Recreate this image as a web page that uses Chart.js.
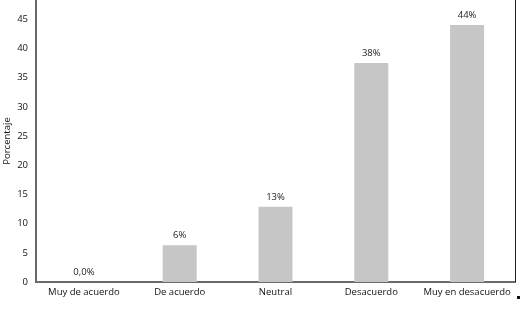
<!DOCTYPE html>
<html>
<head>
<meta charset="utf-8">
<script src="https://cdn.jsdelivr.net/npm/chart.js@4.4.0/dist/chart.umd.min.js"></script>
<style>
  html, body { margin: 0; padding: 0; background: #fff; }
  #wrap { width: 522px; height: 313px; position: relative; }
</style>
</head>
<body>
<div id="wrap"><canvas id="barChart"></canvas></div>
<script>
// Data
const categories = ["Muy de acuerdo", "De acuerdo", "Neutral", "Desacuerdo", "Muy en desacuerdo"];
const values = [0, 6.3, 12.9, 37.5, 44.0];
const valueLabels = ["0,0%", "6%", "13%", "38%", "44%"];
const yTicks = [0, 5, 10, 15, 20, 25, 30, 35, 40, 45];

const FONT = "'Open Sans', 'DejaVu Sans', sans-serif";

// labels above the bars + right frame line
const barLabels = {
  id: "barLabels",
  afterDatasetsDraw(chart) {
    const ctx = chart.ctx;
    const meta = chart.getDatasetMeta(0);
    ctx.save();
    ctx.font = "9.5px " + FONT;
    ctx.fillStyle = "#222";
    ctx.textAlign = "center";
    ctx.textBaseline = "bottom";
    meta.data.forEach((bar, i) => {
      ctx.fillText(valueLabels[i], bar.x, bar.y - 5);
    });
    ctx.restore();
  },
  afterDraw(chart) {
    const { ctx, chartArea } = chart;
    ctx.save();
    ctx.strokeStyle = "#222";
    ctx.lineWidth = 1;
    ctx.beginPath();
    ctx.moveTo(chartArea.right + 0.5, 0);
    ctx.lineTo(chartArea.right + 0.5, chartArea.bottom);
    ctx.stroke();
    ctx.fillStyle = "#111";
    ctx.fillRect(chartArea.right + 2, 296, 3, 3);
    ctx.restore();
  }
};

new Chart(document.getElementById("barChart"), {
  type: "bar",
  data: {
    labels: categories,
    datasets: [{
      data: values,
      backgroundColor: "#c6c6c6",
      categoryPercentage: 1,
      barPercentage: 0.355
    }]
  },
  options: {
    responsive: true,
    maintainAspectRatio: false,
    animation: false,
    layout: { padding: { top: 0, right: 7, left: 0, bottom: 0 } },
    plugins: {
      legend: { display: false },
      tooltip: { enabled: false }
    },
    scales: {
      x: {
        grid: { display: false, drawTicks: false },
        border: { display: true, color: "#6a6a6a", width: 2 },
        ticks: { color: "#111", font: { family: FONT, size: 9.5 }, padding: 5, maxRotation: 0 },
        afterFit: s => { s.height = 31; s.paddingLeft = 0; s.paddingRight = 0; }
      },
      y: {
        min: 0,
        max: 48.3,
        grid: { display: false, drawTicks: false },
        border: { display: true, color: "#6a6a6a", width: 2 },
        afterBuildTicks: s => { s.ticks = yTicks.map(v => ({ value: v })); },
        ticks: { color: "#111", font: { family: FONT, size: 9.5 }, padding: 8 },
        title: { display: true, text: "Porcentaje", color: "#111", font: { family: FONT, size: 9.5 }, padding: { top: 2, bottom: 0 } },
        afterFit: s => { s.width = 36; s.paddingTop = 0; s.paddingBottom = 0; }
      }
    }
  },
  plugins: [barLabels]
});
</script>
</body>
</html>
